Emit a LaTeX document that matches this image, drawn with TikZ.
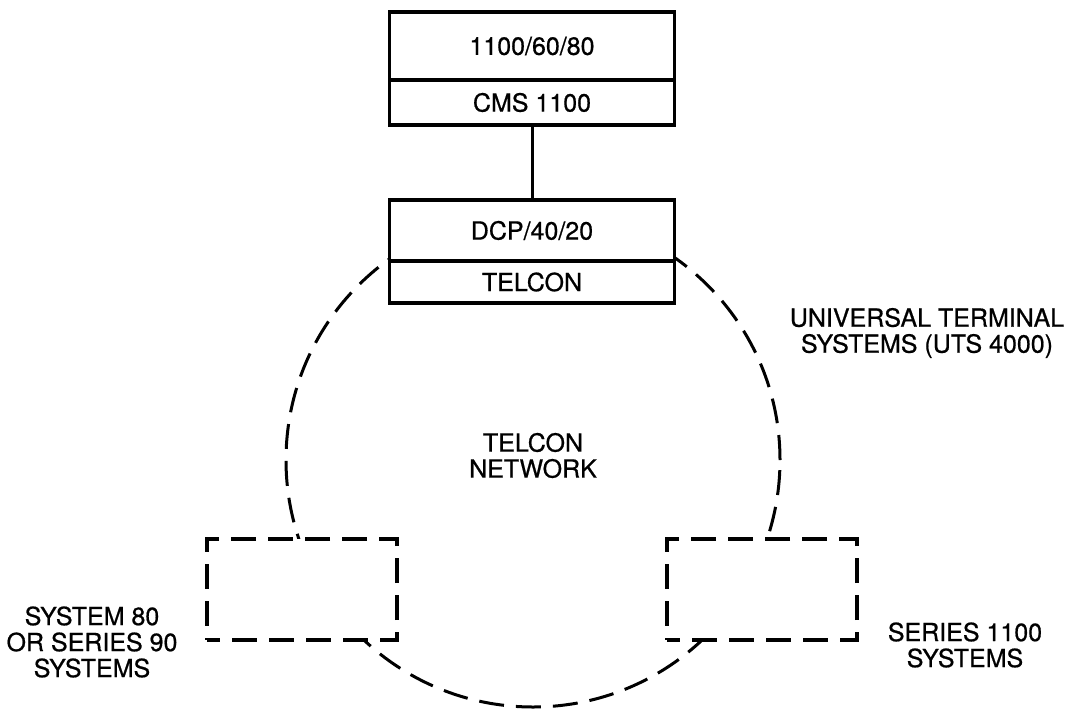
\documentclass[tikz,border=0pt]{standalone}
\usepackage{fontspec}
\setmainfont{TeX Gyre Heros}
\newfontfamily\medfont{TeX Gyre Heros}[FakeBold=0.7]
\usepackage{tikz}

\begin{document}
\begin{tikzpicture}[x=1pt,y=-1pt,
  every node/.style={inner sep=0pt, outer sep=0pt, align=center, font=\medfont\fontsize{25}{26}\selectfont},
  unit/.style={draw, line width=3.5pt, fill=white, minimum width=285pt},
  remote/.style={draw, line width=3.5pt, fill=white, dash pattern=on 25pt off 12pt, dash phase=12pt, minimum width=190pt, minimum height=101pt},
  net/.style={line width=3pt, dash pattern=on 25pt off 12pt}]
\useasboundingbox (0,0) rectangle (1068,709);
% telcon network ring
\draw [net] (533,460) circle [radius=247pt];
\node (network) at (533,455.5) {TELCON\\NETWORK};
% host and front end
\node [unit, minimum height=68pt] (host) at (532,46) {1100/60/80};
\node [unit, minimum height=45pt, anchor=north] (cms) at (host.south) {CMS 1100};
\node [unit, minimum height=61pt] (dcp) at (532,230.5) {DCP/40/20};
\node [unit, minimum height=42pt, anchor=north] (telcon) at (dcp.south) {TELCON};
\draw [line width=3pt] (cms) -- (dcp);
% remote systems
\node [remote] (sys80) at (302,589.5) {};
\node [remote] (sys1100) at (762,589.5) {};
\node (sys80label) at (92,642) {SYSTEM 80\\OR SERIES 90\\SYSTEMS};
\node (sys1100label) at (965,645) {SERIES 1100\\SYSTEMS};
\node (utslabel) at (927,333) {UNIVERSAL TERMINAL\\SYSTEMS (UTS 4000)};
\end{tikzpicture}
\end{document}
